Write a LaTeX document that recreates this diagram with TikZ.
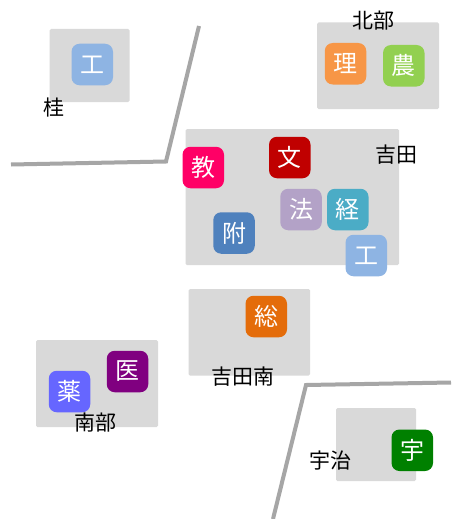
\documentclass[tikz,border=0pt]{standalone}
\usepackage{fontspec}
\setmainfont{Noto Sans CJK JP}
\definecolor{campus}{HTML}{D9D9D9}
\definecolor{wall}{HTML}{A6A6A6}
\definecolor{cKo}{HTML}{8EB4E3}
\definecolor{cRi}{HTML}{F79646}
\definecolor{cNo}{HTML}{92D050}
\definecolor{cBun}{HTML}{C00000}
\definecolor{cKyo}{HTML}{FF0066}
\definecolor{cHo}{HTML}{B3A2C7}
\definecolor{cKei}{HTML}{4BACC6}
\definecolor{cFu}{HTML}{4F81BD}
\definecolor{cSo}{HTML}{E46C0A}
\definecolor{cI}{HTML}{800080}
\definecolor{cYaku}{HTML}{6666FF}
\definecolor{cU}{HTML}{008000}
\tikzset{
  x=1pt,y=-1pt,
  area/.style={fill=campus,draw=none,rounded corners=1.5pt},
  badge/.style={fill=#1,draw=none,rounded corners=8pt,minimum width=41.5pt,minimum height=41.5pt,inner sep=0pt,text=white,font=\fontsize{24}{25}\selectfont},
  place/.style={text=black,inner sep=0pt,font=\fontsize{21}{22}\selectfont},
  border/.style={draw=wall,line width=4pt,line join=miter}
}
\begin{document}
\begin{tikzpicture}
\useasboundingbox (0,0) rectangle (451,519);
\fill[white] (0,0) rectangle (451,519);
% campus areas
\path[area] (49.5,29) rectangle (129.5,102);
\path[area] (317,22.5) rectangle (439,109);
\path[area] (185.5,129) rectangle (399,265);
\path[area] (188.5,289) rectangle (310,375.5);
\path[area] (36,340) rectangle (158,427);
\path[area] (336,408) rectangle (416,481);
% borders
\coordinate (w1a) at (11,164.5);
\coordinate (w1b) at (166,161.5);
\coordinate (w1c) at (199,26);
\coordinate (w2a) at (451,382.5);
\coordinate (w2b) at (306,385);
\coordinate (w2c) at (273,519);
\draw[border] (w1a) -- (w1b) -- (w1c);
\draw[border] (w2a) -- (w2b) -- (w2c);
% badges
\node[badge=cKo] (katsuraKo) at (92.25,64.5) {工};
\node[badge=cRi] (ri) at (345.5,63.75) {理};
\node[badge=cNo] (no) at (403.75,65.75) {農};
\node[badge=cBun] (bun) at (289.75,157.5) {文};
\node[badge=cKyo] (kyo) at (203.25,167.5) {教};
\node[badge=cHo] (ho) at (301,209.5) {法};
\node[badge=cKei] (kei) at (347.75,209.5) {経};
\node[badge=cKo] (yoshidaKo) at (366.25,255.5) {工};
\node[badge=cFu] (fu) at (234,233) {附};
\node[badge=cSo] (so) at (266.25,316.5) {総};
\node[badge=cI] (i) at (127.5,371.5) {医};
\node[badge=cYaku] (yaku) at (69.5,391.5) {薬};
\node[badge=cU] (u) at (412.25,450.25) {宇};
% labels
\node[place] (lKatsura) at (54,108) {桂};
\node[place] (lHokubu) at (373,21) {北部};
\node[place] (lYoshida) at (396,155) {吉田};
\node[place] (lMinami) at (242.5,377) {吉田南};
\node[place] (lNanbu) at (95.5,423) {南部};
\node[place] (lUji) at (330,461) {宇治};
\end{tikzpicture}
\end{document}
